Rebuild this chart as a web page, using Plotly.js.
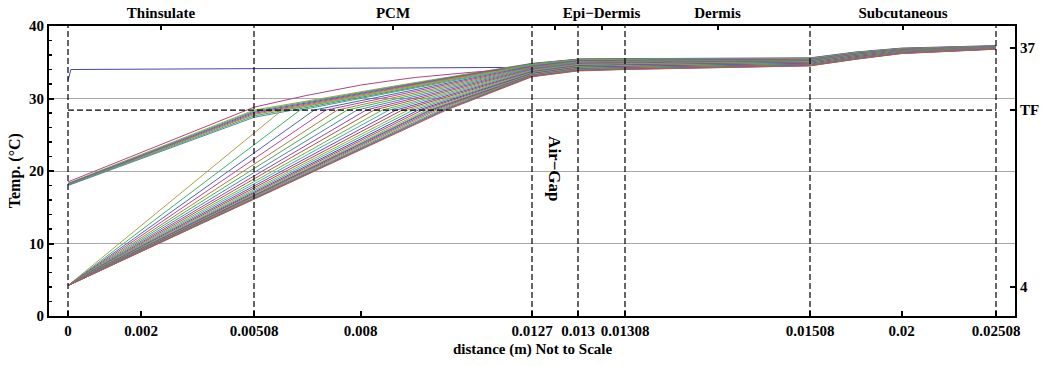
<!DOCTYPE html>
<html><head><meta charset="utf-8">
<script src="https://cdn.plot.ly/plotly-3.0.1.min.js"></script>
<style>html,body{margin:0;padding:0;background:#fff;} #chart{width:1051px;height:366px;}</style>
</head><body><div id="chart"></div>
<script>
// ---------- data ----------
const layerBounds = [0, 0.00508, 0.0127, 0.013, 0.01308, 0.01508, 0.02508];
const layerNames = ["Thinsulate", "PCM", "", "Epi\u2212Dermis", "Dermis", "Subcutaneous"];
const bottomTickVals = [0, 0.002, 0.00508, 0.008, 0.0127, 0.013, 0.01308, 0.01508, 0.02, 0.02508];
const bottomTickText = ["0", "0.002", "0.00508", "0.008", "0.0127", "0.013", "0.01308", "0.01508", "0.02", "0.02508"];
const TF = 28.4;
const rightTickVals = [4, TF, 37];
const rightTickText = ["4", "TF", "37"];

// initial profile
const initX = [0, 0.00008, 0.0127, 0.013, 0.01308, 0.01508, 0.0175, 0.02, 0.02508];
const initT = [32.5, 34.0, 34.3, 35.45, 35.5, 35.6, 36.4, 36.95, 37.3];

// first cooled profile (top curve of the upper family)
const firstX = [0, 0.00508, 0.0065, 0.008, 0.0089, 0.0095, 0.011, 0.0121, 0.0127, 0.013, 0.01308, 0.01508, 0.0175, 0.02, 0.02508];
const firstT = [18.5, 28.8, 30.4, 31.85, 32.5, 32.9, 33.6, 34.0, 34.2, 35.3, 35.35, 35.45, 36.25, 36.85, 37.2];

// rest of the upper family (outer surface ~18 °C)
const upperX = [0, 0.00508, 0.0089, 0.0127, 0.013, 0.01308, 0.01508, 0.0175, 0.02, 0.02508];
const U0    = [18.3, 18.25, 18.2, 18.15, 18.1, 18.05, 18.0];
const U5    = [28.4, 28.25, 28.1, 27.95, 27.8, 27.6, 27.4];
const U89   = [31.7, 31.6, 31.5, 31.4, 31.3, 31.15, 31.0];
const U127  = [34.85, 34.82, 34.79, 34.76, 34.73, 34.7, 34.67];
const U130  = [35.42, 35.41, 35.4, 35.38, 35.37, 35.36, 35.35];
const U1308 = [35.45, 35.44, 35.43, 35.42, 35.41, 35.4, 35.39];
const U1508 = [35.55, 35.54, 35.53, 35.52, 35.5, 35.49, 35.48];
const U175  = [36.35, 36.34, 36.33, 36.32, 36.31, 36.3, 36.29];
const U200  = [36.9, 36.89, 36.88, 36.87, 36.86, 36.85, 36.84];
const U2508 = [37.25, 37.24, 37.23, 37.22, 37.21, 37.2, 37.19];

// lower family (outer surface ~4.2 °C, solidification front in PCM)
const lowerT0 = 4.2;
const L5   = [25.2, 23.6, 22.5, 21.6, 20.9, 20.3, 19.8, 19.3, 18.9, 18.5, 18.2, 17.9, 17.7, 17.4, 17.2, 17.1, 16.9, 16.8, 16.7, 16.6, 16.5, 16.4, 16.3, 16.22, 16.16, 16.1];
const Lxf  = [0.00585, 0.00634, 0.00673, 0.00705, 0.00736, 0.00763, 0.00790, 0.00815, 0.00837, 0.00859, 0.00878, 0.00897, 0.00914, 0.00930, 0.00944, 0.00958, 0.00969, 0.00980, 0.00988, 0.00993, 0.01001, 0.01009, 0.01018, 0.01025, 0.01030, 0.01035];
const L127 = [34.62, 34.55, 34.48, 34.4, 34.32, 34.24, 34.15, 34.06, 33.97, 33.88, 33.8, 33.72, 33.64, 33.57, 33.5, 33.44, 33.38, 33.32, 33.27, 33.22, 33.18, 33.14, 33.1, 33.07, 33.04, 33.0];
const L130 = [35.33, 35.27, 35.21, 35.14, 35.07, 35.0, 34.92, 34.84, 34.76, 34.68, 34.61, 34.54, 34.47, 34.41, 34.35, 34.3, 34.25, 34.2, 34.15, 34.1, 34.06, 34.02, 33.98, 33.9, 33.85, 33.8];
const L1308 = [35.38, 35.32, 35.26, 35.2, 35.13, 35.06, 34.99, 34.92, 34.85, 34.78, 34.71, 34.64, 34.58, 34.52, 34.46, 34.41, 34.36, 34.31, 34.27, 34.23, 34.19, 34.15, 34.11, 34.07, 34.03, 34.0];
const L1508 = [35.47, 35.43, 35.39, 35.35, 35.31, 35.27, 35.22, 35.17, 35.12, 35.07, 35.02, 34.97, 34.93, 34.89, 34.85, 34.81, 34.77, 34.73, 34.7, 34.67, 34.64, 34.61, 34.58, 34.55, 34.52, 34.5];
const L175 = [36.28, 36.25, 36.21, 36.18, 36.14, 36.11, 36.07, 36.03, 35.99, 35.95, 35.91, 35.87, 35.83, 35.79, 35.75, 35.71, 35.67, 35.63, 35.6, 35.57, 35.54, 35.51, 35.48, 35.45, 35.42, 35.4];
const L200 = [36.83, 36.8, 36.78, 36.75, 36.73, 36.7, 36.68, 36.65, 36.63, 36.6, 36.58, 36.55, 36.53, 36.5, 36.48, 36.45, 36.43, 36.4, 36.38, 36.35, 36.33, 36.3, 36.28, 36.25, 36.22, 36.2];
const L2508 = [37.18, 37.16, 37.15, 37.13, 37.12, 37.1, 37.09, 37.07, 37.06, 37.04, 37.03, 37.01, 37.0, 36.98, 36.97, 36.95, 36.94, 36.92, 36.91, 36.89, 36.88, 36.86, 36.85, 36.83, 36.82, 36.8];
const skinX = [0.0127, 0.013, 0.01308, 0.01508, 0.0175, 0.02, 0.02508];

// ---------- "not to scale" axis: display width of each layer ----------
const displayWidth = [186, 278, 46, 47, 185, 186];
function mapX(m) {
  let acc = 0;
  for (let i = 0; i < displayWidth.length; i++) {
    const a = layerBounds[i], b = layerBounds[i + 1];
    if (m <= b || i === displayWidth.length - 1) return acc + (m - a) / (b - a) * displayWidth[i];
    acc += displayWidth[i];
  }
  return acc;
}

// Mathematica-like default palette
function hsv(h, s, v) {
  h = ((h % 1) + 1) % 1;
  const i = Math.floor(h * 6), f = h * 6 - i;
  const p = v * (1 - s), q = v * (1 - f * s), t = v * (1 - (1 - f) * s);
  const c = [[v, t, p], [q, v, p], [p, v, t], [p, q, v], [t, p, v], [v, p, q]][i % 6];
  return 'rgb(' + c.map(x => Math.round(x * 255)).join(',') + ')';
}
const col = k => hsv(0.67 + k * 0.236068, 0.6, 0.68);

const traces = [];
function addLine(xm, yv, color) {
  traces.push({type: 'scatter', mode: 'lines', x: xm.map(mapX), y: yv,
    line: {color: color, width: 1}, hoverinfo: 'skip', showlegend: false});
}
addLine(initX, initT, col(0));
for (let i = 0; i < U0.length; i++) {
  addLine(upperX, [U0[i], U5[i], U89[i], U127[i], U130[i], U1308[i], U1508[i], U175[i], U200[i], U2508[i]], col(i + 2));
}
addLine(firstX, firstT, col(1));
for (let j = 0; j < L5.length; j++) {
  addLine([0, 0.00508, Lxf[j]].concat(skinX),
          [lowerT0, L5[j], TF, L127[j], L130[j], L1308[j], L1508[j], L175[j], L200[j], L2508[j]], col(j + 2));
}
// TF reference line (on overlay axes so it is drawn above the curves)
traces.push({type: 'scatter', mode: 'lines', xaxis: 'x2', yaxis: 'y2',
  x: [layerBounds[0], layerBounds[layerBounds.length - 1]].map(mapX), y: [TF, TF],
  line: {color: '#000', width: 1.2, dash: '6px,3px'}, hoverinfo: 'skip', showlegend: false});

const font = {family: 'Liberation Serif, Times New Roman, serif', size: 15, color: '#000', weight: 'bold'};
const xr = [-19, 947];
const mids = [];
for (let i = 0; i < layerNames.length; i++) mids.push((mapX(layerBounds[i]) + mapX(layerBounds[i + 1])) / 2);

const shapes = layerBounds.map(b => ({type: 'line', xref: 'x', yref: 'paper', x0: mapX(b), x1: mapX(b), y0: 0, y1: 1,
  line: {color: '#000', width: 1.2, dash: '6px,3px'}, layer: 'above'}));

const layout = {
  width: 1051, height: 366, margin: {l: 49, r: 36, t: 26, b: 50},
  paper_bgcolor: '#fff', plot_bgcolor: '#fff', showlegend: false,
  xaxis: {range: xr, tickmode: 'array', tickvals: bottomTickVals.map(mapX), ticktext: bottomTickText,
    ticks: 'inside', ticklen: 5, tickwidth: 2, tickcolor: '#000', showline: true, linewidth: 2, linecolor: '#000',
    showgrid: false, zeroline: false, tickfont: font},
  xaxis2: {range: xr, overlaying: 'x', side: 'top', anchor: 'y2', tickmode: 'array', tickvals: mids, ticktext: layerNames,
    ticks: 'inside', ticklen: 4, tickwidth: 2, tickcolor: '#000', showline: true, linewidth: 2, linecolor: '#000',
    showgrid: false, zeroline: false, tickfont: font},
  yaxis: {range: [0, 40], tickmode: 'linear', tick0: 0, dtick: 10, ticks: 'inside', ticklen: 5, tickwidth: 2, tickcolor: '#000',
    showline: true, linewidth: 2, linecolor: '#000', showgrid: true, gridcolor: '#a8a8a8', gridwidth: 1, zeroline: false,
    tickfont: font, minor: {dtick: 2, ticks: 'inside', ticklen: 3, tickwidth: 1.5, tickcolor: '#000', showgrid: false}},
  yaxis2: {range: [0, 40], overlaying: 'y', side: 'right', anchor: 'x2', tickmode: 'array', tickvals: rightTickVals, ticktext: rightTickText,
    ticks: 'inside', ticklen: 5, tickwidth: 2, tickcolor: '#000', showline: true, linewidth: 2, linecolor: '#000',
    showgrid: false, zeroline: false, tickfont: font},
  shapes: shapes,
  annotations: [
    {text: 'distance (m) Not to Scale', xref: 'paper', yref: 'paper', x: 0.5, y: -0.114, xanchor: 'center', yanchor: 'middle', showarrow: false, font: font},
    {text: 'Temp. (\u00B0C)', xref: 'paper', yref: 'paper', x: -0.035, y: 0.5, xanchor: 'center', yanchor: 'middle', textangle: -90, showarrow: false, font: Object.assign({}, font, {size: 16})},
    {text: 'Air\u2212Gap', xref: 'x', yref: 'y', x: (mapX(0.0127) + mapX(0.013)) / 2, y: 20.4, xanchor: 'center', yanchor: 'middle', textangle: 90, showarrow: false, font: Object.assign({}, font, {size: 17})}
  ]
};
Plotly.newPlot('chart', traces, layout, {staticPlot: true, displayModeBar: false});
</script></body></html>
